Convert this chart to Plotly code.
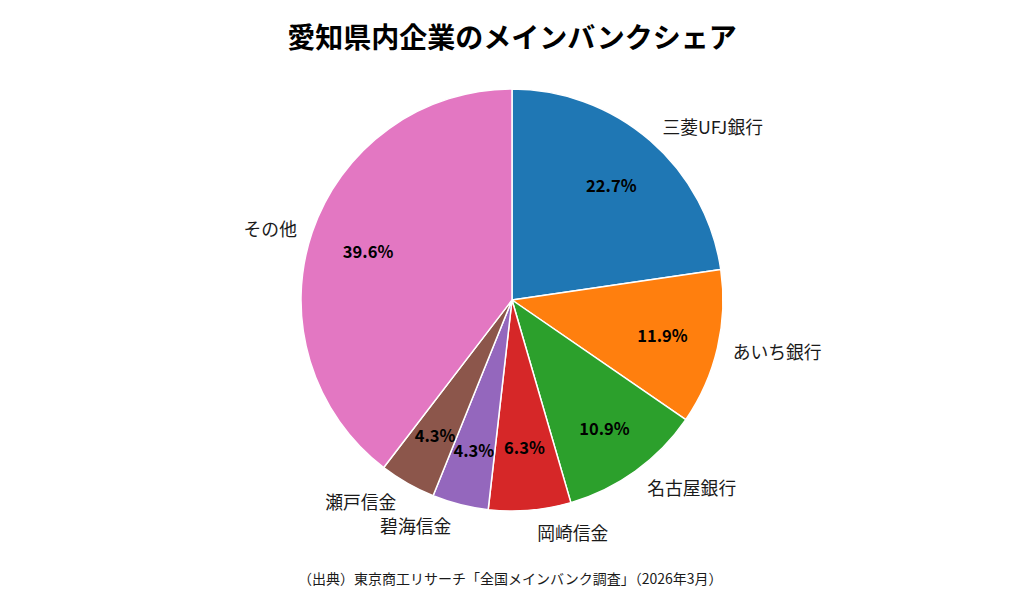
import plotly.graph_objects as go

labels = ["三菱UFJ銀行", "あいち銀行", "名古屋銀行", "岡崎信金", "碧海信金", "瀬戸信金", "その他"]
values = [22.7, 11.9, 10.9, 6.3, 4.3, 4.3, 39.6]
colors = ["#1f77b4", "#ff7f0e", "#2ca02c", "#d62728", "#9467bd", "#8c564b", "#e377c2"]
title = "愛知県内企業のメインバンクシェア"
source = "（出典）東京商工リサーチ「全国メインバンク調査」（2026年3月）"

FONT = "Noto Sans CJK JP"
W, H = 1024, 614
cx, cy, R = 504, 292, 211  # pie centre / radius in figure pixels
SMALL = 7.0  # slices below this share get their percentage drawn from a smaller ring


def domain(radius):
    return dict(x=[(cx - radius) / W, (cx + radius) / W],
                y=[1 - (cy + radius) / H, 1 - (cy - radius) / H])


common = dict(labels=labels, values=values, sort=False, direction="clockwise",
              rotation=0, showlegend=False)
transparent = dict(colors=["rgba(0,0,0,0)"] * len(values), line=dict(width=0))
pct_font = dict(family=FONT, size=16.5, color="black", weight="bold")

fig = go.Figure()
fig.add_trace(go.Pie(
    **common, domain=domain(R),
    marker=dict(colors=colors, line=dict(color="white", width=1.5)),
    textinfo="none", hoverinfo="label+value",
))
for radius, keep in ((R, lambda v: v >= SMALL), (176, lambda v: v < SMALL)):
    fig.add_trace(go.Pie(
        **common, domain=domain(radius), hole=0.44,
        marker=transparent,
        texttemplate=["%{value:.1f}%" if keep(v) else "" for v in values],
        textposition="inside", insidetextorientation="horizontal",
        insidetextfont=pct_font,
        hoverinfo="skip",
    ))
for parity in (0, 1):
    fig.add_trace(go.Pie(
        **common, domain=domain(R + 9),
        marker=transparent,
        texttemplate=["%{label}" if i % 2 == parity else "" for i in range(len(labels))],
        textposition="outside",
        outsidetextfont=dict(family=FONT, size=17.8, color="#1a1a1a"),
        hoverinfo="skip",
    ))
fig.update_layout(
    width=W, height=H,
    margin=dict(l=0, r=0, t=0, b=0),
    showlegend=False,
    paper_bgcolor="white",
    font=dict(family=FONT),
    uniformtext=dict(minsize=16, mode="show"),
    title=dict(text=title, x=504 / W, xanchor="center", y=1 - 30 / H,
               yanchor="middle",
               font=dict(family=FONT, size=28, color="black", weight="bold")),
    annotations=[dict(text=source, x=502 / W, y=1 - 570 / H,
                      xref="paper", yref="paper", xanchor="center", yanchor="middle",
                      showarrow=False, font=dict(family=FONT, size=14, color="#1a1a1a"))],
)
fig.write_html("out.html")
